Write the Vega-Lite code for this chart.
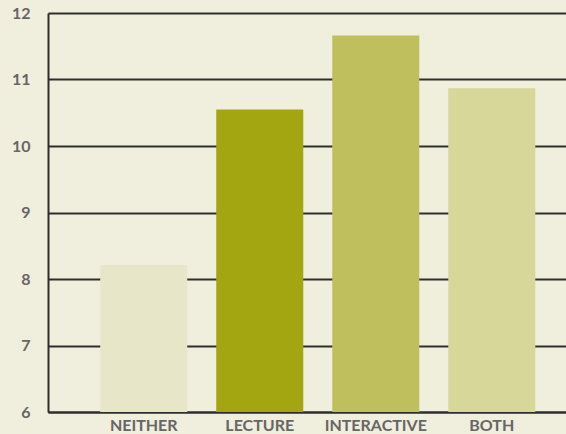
{
  "$schema": "https://vega.github.io/schema/vega-lite/v6.json",
  "width": 520,
  "height": 399,
  "autosize": {"type": "none"},
  "padding": {"left": 48, "top": 13, "right": 0, "bottom": 22},
  "background": "#f0eedc",
  "data": {
    "values": [
      {"group": "NEITHER", "value": 8.21},
      {"group": "LECTURE", "value": 10.55},
      {"group": "INTERACTIVE", "value": 11.66},
      {"group": "BOTH", "value": 10.87}
    ]
  },
  "config": {
    "view": {"stroke": null},
    "axis": {
      "labelFont": "Lato",
      "labelFontWeight": "bold",
      "labelColor": "#666666",
      "domainColor": "#2e2e2e",
      "domainWidth": 2,
      "gridColor": "#2e2e2e",
      "gridWidth": 2,
      "gridOpacity": 1,
      "ticks": false,
      "title": null
    }
  },
  "mark": {"type": "bar", "clip": true},
  "encoding": {
    "x": {
      "field": "group",
      "type": "nominal",
      "sort": ["NEITHER", "LECTURE", "INTERACTIVE", "BOTH"],
      "scale": {"paddingInner": 0.25, "paddingOuter": 0.366, "align": 0.615},
      "axis": {"labelAngle": 0, "labelPadding": 5, "grid": false, "labelFontSize": 16}
    },
    "y": {
      "field": "value",
      "type": "quantitative",
      "scale": {"domain": [6, 12], "zero": false, "nice": false},
      "axis": {"values": [6, 7, 8, 9, 10, 11, 12], "labelPadding": 18, "grid": true, "labelBaseline": "middle", "labelFontSize": 16}
    },
    "color": {
      "field": "group",
      "type": "nominal",
      "scale": {
        "domain": ["NEITHER", "LECTURE", "INTERACTIVE", "BOTH"],
        "range": ["#e7e6c9", "#a3a511", "#bfbf5e", "#d7d799"]
      },
      "legend": null
    }
  }
}
